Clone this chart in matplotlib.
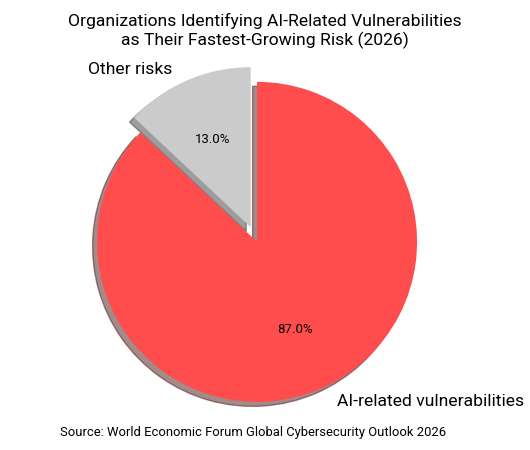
import matplotlib
matplotlib.use("Agg")
import matplotlib.pyplot as plt
import matplotlib.transforms as mtransforms

labels = ["Other risks", "AI-related vulnerabilities"]
values = [13.0, 87.0]
colors = ["#CBCBCB", "#FF4C4C"]
explode = [0.1, 0.0]
title = "Organizations Identifying AI-Related Vulnerabilities\nas Their Fastest-Growing Risk (2026)"
source = "Source: World Economic Forum Global Cybersecurity Outlook 2026"

plt.rcParams['font.family'] = ['Roboto', 'DejaVu Sans']

fig = plt.figure(figsize=(5.3, 4.5), dpi=100)
ax = fig.add_axes([0.1075, 0.018, 0.755, 0.889])
wedges, texts, autotexts = ax.pie(values, labels=labels, colors=colors, explode=explode,
                                  autopct='%1.1f%%', startangle=90, shadow=True,
                                  textprops={'fontsize': 12.6})
for t in autotexts:
    t.set_fontsize(9.5)
# small nudges of label placement (points)
nudges = [(-6, -2.5), (7, 1.5)]
for t, (dx, dy) in zip(texts, nudges):
    t.set_transform(t.get_transform() + mtransforms.ScaledTranslation(dx / 72, dy / 72, fig.dpi_scale_trans))
ax.set_aspect('equal')
fig.text(0.5, 0.972, title, ha='center', va='top', fontsize=12.6, linespacing=1.2)
fig.text(0.113, 0.038, source, ha='left', va='center', fontsize=9.4)
fig.savefig("out.png", dpi=100)
